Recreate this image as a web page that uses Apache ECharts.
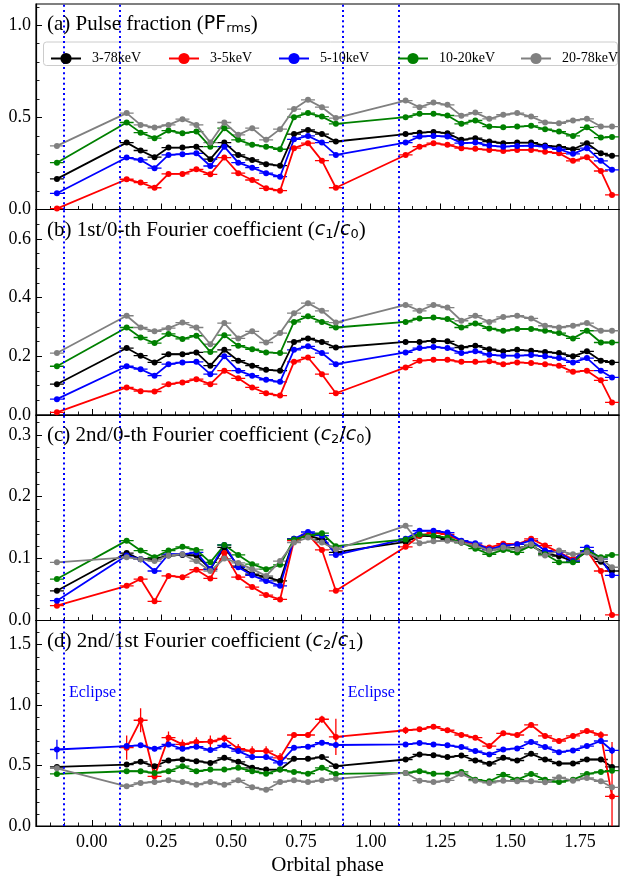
<!DOCTYPE html>
<html>
<head>
<meta charset="utf-8">
<title>Orbital phase dependence</title>
<script src="https://cdn.jsdelivr.net/npm/echarts@6.0.0/dist/echarts.min.js"></script>
<style>
  html, body { margin: 0; padding: 0; background: #fff; }
</style>
</head>
<body>
<div id="main" style="width:620px;height:880px;"></div>
<script type="text/javascript">
// orbital phase of each bin
var phase = [-0.125, 0.125, 0.175, 0.225, 0.275, 0.325, 0.375, 0.425, 0.475, 0.525, 0.575, 0.625,
  0.675, 0.725, 0.775, 0.825, 0.875, 1.125, 1.175, 1.225, 1.275, 1.325, 1.375, 1.425, 1.475,
  1.525, 1.575, 1.625, 1.675, 1.725, 1.775, 1.825, 1.865];
var bands = ['3-78keV', '3-5keV', '5-10keV', '10-20keV', '20-78keV'];
var colors = ['#000000', '#ff0000', '#0000ff', '#008000', '#808080'];

// (a) pulse fraction PF_rms
var pfAll  = [0.166, 0.363, 0.320, 0.284, 0.336, 0.336, 0.341, 0.273, 0.363, 0.296, 0.269, 0.246, 0.238, 0.409, 0.432, 0.409, 0.369, 0.409, 0.417, 0.421, 0.414, 0.378, 0.387, 0.369, 0.360, 0.363, 0.363, 0.347, 0.341, 0.327, 0.360, 0.305, 0.291];
var pf35   = [0.005, 0.164, 0.146, 0.118, 0.193, 0.193, 0.218, 0.191, 0.282, 0.197, 0.160, 0.115, 0.102, 0.333, 0.360, 0.265, 0.118, 0.296, 0.341, 0.360, 0.351, 0.333, 0.329, 0.323, 0.318, 0.323, 0.323, 0.314, 0.305, 0.264, 0.284, 0.209, 0.079];
var pf510  = [0.088, 0.282, 0.269, 0.224, 0.296, 0.300, 0.305, 0.236, 0.341, 0.254, 0.227, 0.197, 0.178, 0.381, 0.399, 0.363, 0.296, 0.363, 0.396, 0.399, 0.396, 0.360, 0.363, 0.347, 0.341, 0.345, 0.347, 0.341, 0.327, 0.302, 0.333, 0.264, 0.215];
var pf1020 = [0.254, 0.472, 0.417, 0.387, 0.428, 0.414, 0.423, 0.341, 0.441, 0.378, 0.351, 0.341, 0.327, 0.501, 0.523, 0.504, 0.465, 0.501, 0.519, 0.519, 0.510, 0.465, 0.483, 0.450, 0.446, 0.450, 0.454, 0.436, 0.423, 0.399, 0.446, 0.390, 0.394];
var pf2078 = [0.345, 0.523, 0.459, 0.445, 0.459, 0.490, 0.459, 0.363, 0.472, 0.405, 0.441, 0.378, 0.436, 0.545, 0.595, 0.555, 0.496, 0.591, 0.555, 0.580, 0.568, 0.508, 0.526, 0.492, 0.514, 0.523, 0.504, 0.472, 0.468, 0.483, 0.492, 0.450, 0.450];

// (b) c1/c0
var c1All  = [0.105, 0.228, 0.202, 0.179, 0.207, 0.207, 0.213, 0.168, 0.222, 0.185, 0.168, 0.154, 0.151, 0.249, 0.261, 0.249, 0.230, 0.249, 0.249, 0.253, 0.251, 0.230, 0.236, 0.224, 0.217, 0.222, 0.219, 0.215, 0.211, 0.200, 0.217, 0.185, 0.179];
var c135   = [0.009, 0.094, 0.081, 0.080, 0.105, 0.111, 0.122, 0.105, 0.151, 0.125, 0.094, 0.074, 0.066, 0.181, 0.196, 0.139, 0.074, 0.162, 0.185, 0.188, 0.188, 0.181, 0.181, 0.183, 0.173, 0.179, 0.177, 0.173, 0.168, 0.147, 0.151, 0.118, 0.043];
var c1510  = [0.054, 0.166, 0.156, 0.134, 0.173, 0.179, 0.181, 0.139, 0.200, 0.151, 0.134, 0.120, 0.113, 0.222, 0.234, 0.211, 0.173, 0.213, 0.228, 0.232, 0.228, 0.211, 0.217, 0.205, 0.202, 0.202, 0.204, 0.200, 0.194, 0.179, 0.194, 0.151, 0.128];
var c11020 = [0.166, 0.298, 0.264, 0.245, 0.276, 0.259, 0.270, 0.215, 0.272, 0.236, 0.224, 0.213, 0.211, 0.317, 0.336, 0.317, 0.298, 0.317, 0.329, 0.332, 0.327, 0.298, 0.312, 0.295, 0.287, 0.293, 0.293, 0.287, 0.279, 0.261, 0.287, 0.247, 0.247];
var c12078 = [0.211, 0.338, 0.298, 0.285, 0.296, 0.315, 0.298, 0.241, 0.313, 0.261, 0.285, 0.247, 0.279, 0.347, 0.381, 0.355, 0.315, 0.375, 0.355, 0.375, 0.366, 0.321, 0.338, 0.317, 0.334, 0.338, 0.329, 0.304, 0.298, 0.304, 0.313, 0.287, 0.287];

// (c) c2/c0
var c2All  = [0.048, 0.109, 0.099, 0.099, 0.105, 0.106, 0.105, 0.083, 0.118, 0.088, 0.075, 0.070, 0.064, 0.132, 0.137, 0.131, 0.110, 0.127, 0.137, 0.136, 0.131, 0.126, 0.121, 0.114, 0.118, 0.117, 0.121, 0.109, 0.104, 0.096, 0.111, 0.095, 0.080];
var c235   = [0.024, 0.056, 0.067, 0.031, 0.072, 0.070, 0.082, 0.068, 0.109, 0.070, 0.054, 0.041, 0.034, 0.129, 0.139, 0.114, 0.048, 0.119, 0.137, 0.142, 0.139, 0.128, 0.122, 0.118, 0.124, 0.123, 0.132, 0.121, 0.110, 0.099, 0.113, 0.080, 0.009];
var c2510  = [0.032, 0.105, 0.099, 0.080, 0.107, 0.107, 0.110, 0.083, 0.122, 0.086, 0.073, 0.064, 0.056, 0.132, 0.143, 0.137, 0.106, 0.132, 0.145, 0.145, 0.142, 0.129, 0.125, 0.115, 0.121, 0.123, 0.129, 0.113, 0.110, 0.096, 0.118, 0.099, 0.073];
var c21020 = [0.067, 0.129, 0.113, 0.102, 0.113, 0.119, 0.114, 0.094, 0.122, 0.106, 0.091, 0.083, 0.090, 0.131, 0.137, 0.141, 0.120, 0.131, 0.139, 0.137, 0.134, 0.126, 0.116, 0.107, 0.114, 0.110, 0.121, 0.107, 0.094, 0.094, 0.113, 0.102, 0.106];
var c22078 = [0.094, 0.102, 0.099, 0.096, 0.105, 0.107, 0.096, 0.080, 0.100, 0.093, 0.083, 0.072, 0.096, 0.126, 0.134, 0.126, 0.115, 0.153, 0.125, 0.128, 0.129, 0.126, 0.121, 0.113, 0.118, 0.115, 0.123, 0.105, 0.113, 0.107, 0.110, 0.099, 0.086];

// (d) c2/c1
var rAll  = [0.489, 0.508, 0.531, 0.495, 0.542, 0.550, 0.536, 0.522, 0.564, 0.531, 0.481, 0.467, 0.467, 0.556, 0.556, 0.570, 0.495, 0.550, 0.592, 0.586, 0.570, 0.583, 0.542, 0.514, 0.564, 0.542, 0.597, 0.550, 0.517, 0.517, 0.550, 0.550, 0.489];
var r35   = [null, 0.648, 0.875, 0.411, 0.731, 0.675, 0.695, 0.698, 0.725, 0.639, 0.620, 0.620, 0.564, 0.753, 0.753, 0.883, 0.737, 0.792, 0.800, 0.822, 0.792, 0.753, 0.731, 0.661, 0.767, 0.753, 0.836, 0.745, 0.703, 0.745, 0.786, 0.753, 0.245];
var r510  = [0.633, 0.661, 0.667, 0.639, 0.675, 0.639, 0.656, 0.628, 0.667, 0.620, 0.570, 0.570, 0.522, 0.648, 0.656, 0.689, 0.670, 0.675, 0.686, 0.675, 0.667, 0.653, 0.620, 0.592, 0.633, 0.642, 0.695, 0.653, 0.611, 0.625, 0.661, 0.703, 0.625];
var r1020 = [0.431, 0.453, 0.453, 0.439, 0.453, 0.495, 0.453, 0.467, 0.467, 0.481, 0.453, 0.433, 0.467, 0.447, 0.433, 0.481, 0.431, 0.439, 0.453, 0.433, 0.433, 0.447, 0.383, 0.370, 0.425, 0.383, 0.431, 0.383, 0.364, 0.383, 0.431, 0.447, 0.458];
var r2078 = [0.477, 0.328, 0.356, 0.364, 0.378, 0.364, 0.342, 0.364, 0.342, 0.378, 0.320, 0.300, 0.364, 0.378, 0.364, 0.378, 0.389, 0.439, 0.375, 0.364, 0.378, 0.431, 0.375, 0.356, 0.375, 0.370, 0.370, 0.361, 0.403, 0.375, 0.397, 0.370, 0.320];
// visible vertical error bars in (d)
var r35Err  = [null, 0.10, 0.10, 0.07, 0.05, 0.04, 0.04, 0.05, 0.03, 0.04, 0.04, 0.04, 0.04, 0.02, 0.02, 0.03, 0.15, 0.03, 0.02, 0.02, 0.02, 0.02, 0.02, 0.02, 0.02, 0.02, 0.02, 0.02, 0.02, 0.02, 0.02, 0.03, 0.45];
var r510Err = [0.08, 0.02, 0.02, 0.02, 0.02, 0.02, 0.02, 0.02, 0.02, 0.02, 0.02, 0.02, 0.02, 0.02, 0.02, 0.02, 0.02, 0.01, 0.01, 0.01, 0.01, 0.01, 0.01, 0.01, 0.01, 0.01, 0.01, 0.01, 0.01, 0.01, 0.01, 0.02, 0.03];

var xTicks = [0, 0.25, 0.5, 0.75, 1.0, 1.25, 1.5, 1.75];
var eclipseEdges = [-0.1, 0.1, 0.9, 1.1];

var panels = [
  { title: '(a) Pulse fraction ({sf|PF}{sub|rms}{tx|)}', max: 1.115, ticks: [0, 0.5, 1.0], minor: 0.1,
    series: [pfAll, pf35, pf510, pf1020, pf2078], errs: [] },
  { title: '(b) 1st/0-th Fourier coefficient ({it|c}{sub|1}{sf|/}{it|c}{sub|0}{tx|)}', max: 0.7, ticks: [0, 0.2, 0.4, 0.6], minor: 0.05,
    series: [c1All, c135, c1510, c11020, c12078], errs: [] },
  { title: '(c) 2nd/0-th Fourier coefficient ({it|c}{sub|2}{sf|/}{it|c}{sub|0}{tx|)}', max: 0.332, ticks: [0, 0.1, 0.2, 0.3], minor: 0.02,
    series: [c2All, c235, c2510, c21020, c22078], errs: [] },
  { title: '(d) 2nd/1st Fourier coefficient ({it|c}{sub|2}{sf|/}{it|c}{sub|1}{tx|)}', max: 1.7, ticks: [0, 0.5, 1.0, 1.5], minor: 0.1,
    series: [rAll, r35, r510, r1020, r2078], errs: [null, r35Err, r510Err] }
];

var xMin = -0.2, xMax = 1.89;
var LEFT = 36, RIGHT = 1, TOP = 4, PH = 205.5;
var serif = 'Liberation Serif';

function steps(from, to, step, skip) {
  var out = [];
  for (var v = from; v <= to + 1e-9; v += step) {
    var r = Math.round(v * 1000) / 1000;
    if (skip.indexOf(r) < 0) out.push(r);
  }
  return out;
}
var xMinor = steps(-0.15, 1.85, 0.05, xTicks);

var grids = [], xAxes = [], yAxes = [], series = [], graphics = [];

panels.forEach(function (p, pi) {
  var top = TOP + pi * PH;
  grids.push({ left: LEFT, right: RIGHT, top: top, height: PH, show: true,
    borderColor: '#000', borderWidth: 1.2, backgroundColor: 'transparent' });
  var last = pi === panels.length - 1;
  xAxes.push({
    gridIndex: pi, type: 'value', min: xMin, max: xMax, position: 'bottom',
    axisLine: { show: true, onZero: false, lineStyle: { color: '#000', width: 1.2 } },
    axisTick: { show: true, inside: true, length: 6, customValues: xTicks, lineStyle: { color: '#000', width: 1 } },
    axisLabel: { show: last, customValues: xTicks, margin: 7, color: '#000', fontFamily: serif, fontSize: 18,
      formatter: function (v) { return v.toFixed(2); } },
    splitLine: { show: false },
    name: last ? 'Orbital phase' : '', nameLocation: 'middle', nameGap: 29,
    nameTextStyle: { color: '#000', fontFamily: serif, fontSize: 21 }
  });
  xAxes.push({
    gridIndex: pi, type: 'value', min: xMin, max: xMax, position: 'bottom',
    axisLine: { show: false, onZero: false },
    axisTick: { show: true, inside: true, length: 3.5, customValues: xMinor, lineStyle: { color: '#000', width: 0.9 } },
    axisLabel: { show: false }, splitLine: { show: false }
  });
  yAxes.push({
    gridIndex: pi, type: 'value', min: 0, max: p.max, position: 'left',
    axisLine: { show: true, onZero: false, lineStyle: { color: '#000', width: 1.2 } },
    axisTick: { show: true, inside: true, length: 6, customValues: p.ticks, lineStyle: { color: '#000', width: 1 } },
    axisLabel: { show: true, customValues: p.ticks, margin: 5, color: '#000', fontFamily: serif, fontSize: 18,
      formatter: function (v) { return v.toFixed(1); } },
    splitLine: { show: false }
  });
  yAxes.push({
    gridIndex: pi, type: 'value', min: 0, max: p.max, position: 'left',
    axisLine: { show: false, onZero: false },
    axisTick: { show: true, inside: true, length: 3.5, customValues: steps(p.minor, p.max, p.minor, p.ticks),
      lineStyle: { color: '#000', width: 0.9 } },
    axisLabel: { show: false }, splitLine: { show: false }
  });

  var xi = pi * 2, yi = pi * 2;
  p.series.forEach(function (vals, k) {
    var s = {
      type: 'line', name: bands[k], xAxisIndex: xi, yAxisIndex: yi,
      data: phase.map(function (x, i) { return [x, vals[i] == null ? '-' : vals[i]]; }),
      symbol: 'circle', symbolSize: 6, showSymbol: true,
      lineStyle: { color: colors[k], width: 1.8 },
      itemStyle: { color: colors[k] },
      z: 3, animation: false, silent: true
    };
    if (k === 0) {
      s.markLine = {
        silent: true, symbol: 'none', label: { show: false },
        lineStyle: { color: '#0000ff', type: [2, 3.2], width: 2 },
        data: eclipseEdges.map(function (e) { return { xAxis: e }; })
      };
    }
    series.push(s);
  });
  p.series.forEach(function (vals, k) {
    var errs = p.errs[k] || null;
    series.push({
      type: 'custom', name: bands[k], xAxisIndex: xi, yAxisIndex: yi,
      dimensions: ['x', 'y', 'e'], encode: { x: 0, y: 1 },
      data: phase.map(function (x, i) {
        return [x, vals[i] == null ? '-' : vals[i], errs && errs[i] != null ? errs[i] : 0];
      }),
      renderItem: function (params, api) {
        var x = api.value(0), y = api.value(1), e = api.value(2);
        if (isNaN(y)) return;
        var st = { stroke: colors[k], lineWidth: 1.3 };
        var l = api.coord([x - 0.025, y]), r = api.coord([x + 0.025, y]);
        var kids = [{ type: 'line', shape: { x1: l[0], y1: l[1], x2: r[0], y2: r[1] }, style: st }];
        if (e > 0) {
          var t = api.coord([x, y + e]), b = api.coord([x, Math.max(y - e, 0)]);
          kids.push({ type: 'line', shape: { x1: t[0], y1: t[1], x2: b[0], y2: b[1] }, style: st });
        }
        return { type: 'group', children: kids };
      },
      clip: true, z: 3, silent: true, animation: false
    });
  });

  graphics.push({
    type: 'text', left: 47, top: top + 9.5, z: 10,
    style: {
      text: p.title, fill: '#000', font: '21px "Liberation Serif"',
      rich: {
        sf: { fontFamily: 'DejaVu Sans', fontSize: 19, lineHeight: 24 },
        it: { fontFamily: 'DejaVu Sans', fontStyle: 'italic', fontSize: 19, lineHeight: 24 },
        sub: { fontFamily: 'DejaVu Sans', fontSize: 13, lineHeight: 24, padding: [9, 0, 0, 0] },
        tx: { fontFamily: serif, fontSize: 21, lineHeight: 24 }
      }
    }
  });
});

// legend frame in panel (a)
graphics.push({
  type: 'rect', left: 43, top: 41.5, z: 5,
  shape: { width: 574, height: 23.5, r: 3 },
  style: { fill: 'rgba(255,255,255,0.85)', stroke: '#cccccc', lineWidth: 1 }
});

var legendLeft = [45, 163, 273, 392, 515];
var legends = bands.map(function (b, k) {
  return {
    left: legendLeft[k], top: 46.5, z: 6, itemWidth: 30, itemHeight: 14, selectedMode: false,
    data: [b], textStyle: { color: '#000', fontFamily: serif, fontSize: 14, padding: [0, 0, 0, 6] }
  };
});

var myChart = echarts.init(document.getElementById('main'), null, { renderer: 'canvas' });
myChart.setOption({
  animation: false,
  backgroundColor: '#ffffff',
  grid: grids,
  xAxis: xAxes,
  yAxis: yAxes,
  legend: legends,
  series: series,
  graphic: graphics
});

// "Eclipse" labels in panel (d), placed next to the eclipse ingress lines
var eclipseTexts = [-0.1, 0.9].map(function (e) {
  var pt = myChart.convertToPixel({ xAxisIndex: 6, yAxisIndex: 6 }, [e, 1.12]);
  return {
    type: 'text', x: pt[0] + 5, y: pt[1] + 2, z: 10,
    style: { text: 'Eclipse', fill: '#0000ff', font: '16px "Liberation Serif"', verticalAlign: 'middle' }
  };
});
myChart.setOption({ graphic: graphics.concat(eclipseTexts) });
</script>
</body>
</html>
